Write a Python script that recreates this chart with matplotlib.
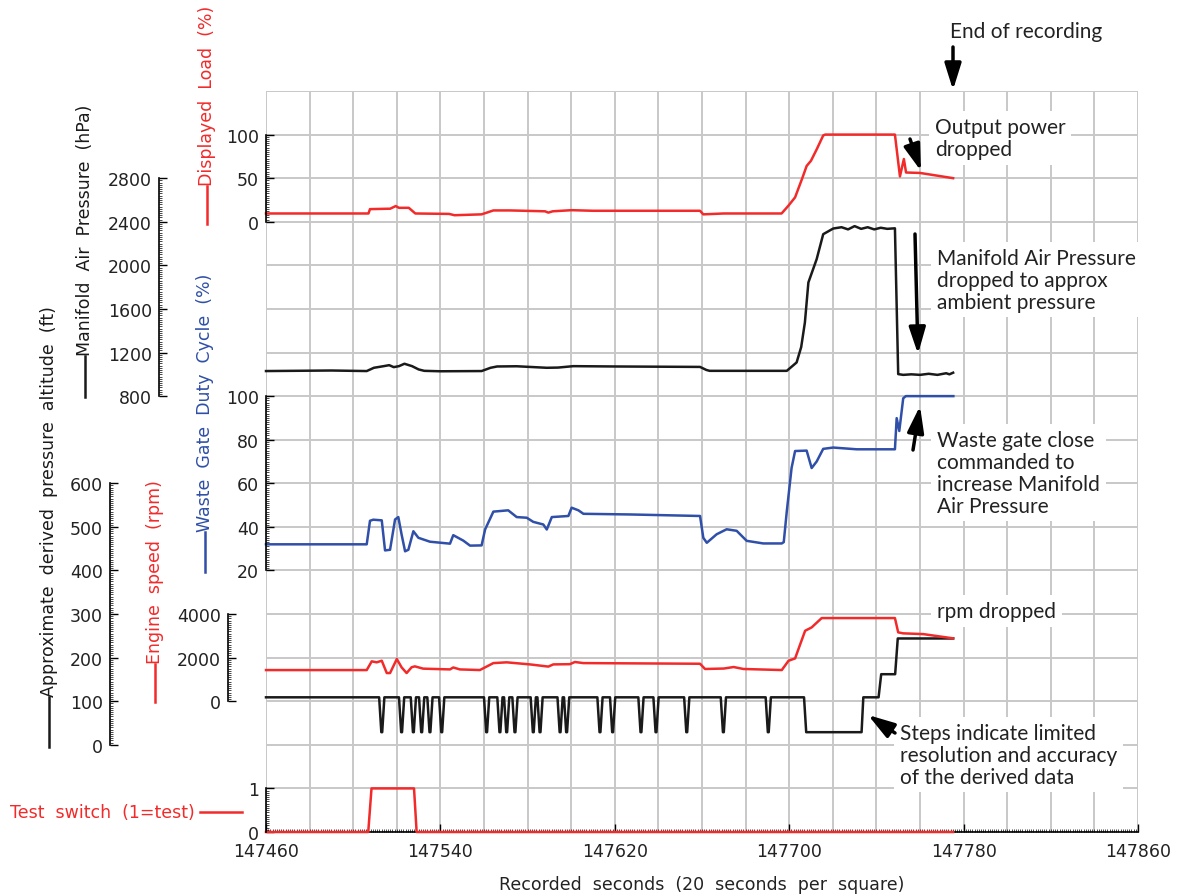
import numpy as np
import matplotlib
matplotlib.use("Agg")
import matplotlib.pyplot as plt
from matplotlib.ticker import FixedLocator
from matplotlib.lines import Line2D
from matplotlib.patches import FancyArrowPatch

# ---------------- data (time offsets in s from 147460) ----------------
T0 = 147460

load_t = [0, 47.0, 47.7, 57.0, 59.5, 61.0, 65.5, 68.5, 84.0, 86.5,
          98.9, 104.3, 112.0, 128.0, 129.5, 131.5, 140.2, 150.0, 199.1, 200.6,
          210.0, 236.5, 239.5, 242.7, 246.0, 248.0, 250.0, 252.6, 255.6, 256.5,
          288.5, 290.8, 292.6, 293.6, 300.0, 315.2]
load_v = [9.5, 9.5, 14.5, 15.0, 18.0, 16.0, 16.0, 9.5, 9.0, 7.5,
          8.5, 13.0, 13.0, 12.0, 10.5, 12.0, 13.3, 12.6, 12.6, 8.5,
          9.5, 9.5, 18.0, 28.0, 50.0, 64.0, 70.0, 83.0, 99.0, 100.0,
          100.0, 52.0, 72.0, 56.5, 56.0, 50.0]

map_t = [0, 30, 46.2, 49.5, 54.0, 56.5, 58.6, 61.0, 63.5, 67.0,
         70.0, 72.6, 80.0, 98.9, 103.0, 106.0, 115.0, 128.8, 134.0, 141.0,
         160.0, 199.1, 202.0, 203.5, 238.9, 243.4, 245.5, 247.2, 248.8, 252.6,
         255.6, 260.2, 264.0, 267.0, 270.0, 273.0, 276.0, 279.0, 282.0, 285.0,
         288.5, 290.0, 292.3, 296.0, 300.0, 304.0, 308.0, 312.0, 313.5, 315.2]
map_v = [1030, 1035, 1030, 1060, 1075, 1084, 1066, 1075, 1097, 1075,
         1045, 1032, 1028, 1030, 1060, 1072, 1074, 1060, 1062, 1075,
         1072, 1068, 1040, 1032, 1032, 1109, 1250, 1476, 1843, 2057,
         2286, 2338, 2350, 2330, 2360, 2335, 2350, 2330, 2345, 2335,
         2340, 1002, 995, 1000, 995, 1005, 995, 1010, 1000, 1015]

wg_t = [0, 46.2, 47.7, 49.2, 53.1, 54.6, 56.9, 59.2, 60.7, 62.2,
        63.8, 65.3, 67.6, 69.9, 75.2, 84.4, 85.9, 90.5, 93.6, 98.9,
        100.5, 104.3, 111.1, 115.0, 119.6, 122.6, 127.2, 128.8, 131.1, 138.7,
        140.2, 143.3, 145.6, 167.0, 199.1, 200.6, 202.2, 206.7, 211.3, 215.9,
        220.5, 228.1, 236.6, 237.5, 238.9, 241.1, 242.7, 248.0, 250.3, 252.6,
        255.6, 260.2, 271.0, 288.5, 289.3, 290.5, 292.3, 293.5, 315.3]
wg_v = [32, 32, 42.8, 43.3, 43, 29.2, 29.5, 43.4, 44.5, 36.5,
        28.8, 29.5, 38, 35, 33.2, 32.3, 36.2, 33.7, 31.4, 31.5,
        38.8, 47, 47.6, 44.5, 44.2, 42.3, 41.1, 38.8, 44.5, 45,
        48.8, 47.6, 46, 45.7, 45, 35, 32.7, 36.6, 38.9, 38.2,
        33.6, 32.4, 32.4, 33, 47.2, 67.1, 74.8, 75, 67, 70,
        75.8, 76.4, 75.6, 75.6, 89.9, 84, 99, 100, 100]

rpm_t = [0, 46.2, 48.5, 50.8, 53.1, 55.4, 56.9, 60.0, 62.2, 64.5,
         66.8, 68.3, 72.1, 84.4, 85.9, 88.9, 98.1, 104.3, 110.4, 121.1,
         129.5, 131.8, 139.4, 141.7, 145.6, 199.1, 201.4, 210.0, 214.5, 219.0,
         236.6, 239.7, 242.7, 247.3, 250.3, 254.9, 288.5, 290.0, 292.3, 301.5,
         315.2]
rpm_v = [1430, 1430, 1830, 1785, 1860, 1293, 1293, 1936, 1555, 1293,
         1560, 1600, 1495, 1460, 1550, 1460, 1431, 1750, 1785, 1690,
         1590, 1690, 1700, 1800, 1750, 1720, 1480, 1500, 1570, 1480,
         1431, 1858, 1965, 3234, 3387, 3816, 3816, 3160, 3115, 3080,
         2885]

alt_t = [0,
         51.9, 52.9, 53.3, 54.3,
         61.0, 62.0, 62.4, 63.4,
         66.4, 67.4, 67.8, 68.8,
         70.2, 71.2, 71.6, 72.6,
         74.0, 75.0, 75.4, 76.4,
         79.4, 80.4, 80.8, 81.8,
         100.0, 101.0, 101.4, 102.4,
         106.1, 107.1, 107.5, 108.5,
         109.2, 110.2, 110.6, 111.6,
         113.0, 114.0, 114.4, 115.4,
         121.4, 122.4, 122.8, 123.8,
         124.5, 125.5, 125.9, 126.9,
         133.7, 134.7, 135.1, 136.1,
         136.7, 137.7, 138.1, 139.1,
         152.0, 153.0, 153.4, 154.4,
         157.8, 158.8, 159.2, 160.2,
         170.8, 171.8, 172.2, 173.2,
         177.7, 178.7, 179.1, 180.1,
         191.8, 192.8, 193.2, 194.2,
         208.6, 209.6, 210.0, 211.0,
         229.2, 230.2, 230.6, 231.6,
         246.8, 247.8, 273.2, 274.0, 281.0, 282.2, 288.6, 289.8, 315.2]
alt_v = [109,
         109, 29, 29, 109,
         109, 29, 29, 109,
         109, 29, 29, 109,
         109, 29, 29, 109,
         109, 29, 29, 109,
         109, 29, 29, 109,
         109, 29, 29, 109,
         109, 29, 29, 109,
         109, 29, 29, 109,
         109, 29, 29, 109,
         109, 29, 29, 109,
         109, 29, 29, 109,
         109, 29, 29, 109,
         109, 29, 29, 109,
         109, 29, 29, 109,
         109, 29, 29, 109,
         109, 29, 29, 109,
         109, 29, 29, 109,
         109, 29, 29, 109,
         109, 29, 29, 109,
         109, 29, 29, 109,
         109, 29, 29, 109, 109, 162, 162, 244, 244]

sw_t = [0, 46.9, 48.4, 67.9, 69.1, 315.2]
sw_v = [0, 0, 1, 1, 0, 0]

x_ticks = [147460, 147540, 147620, 147700, 147780, 147860]

# ---------------- style ----------------
RED = "#f22a2a"
BLUE = "#2f4fa8"
BLK = "#1a1a1a"
GRID = "#c8c8c8"
TXT = "#222222"
FS = 12.5
ANN_FONT = ["Lato", "DejaVu Sans"]

W, H = 1178, 895
fig = plt.figure(figsize=(W / 100, H / 100), dpi=100)
L, B, AW, AH = 266, 833, 872, 741
rect = [L / W, 1 - B / H, AW / W, AH / H]
XMIN, XMAX = 147460, 147860
NSQ = 17

# grid axes (20 s per square)
gax = fig.add_axes(rect, zorder=0)
gax.set_xlim(XMIN, XMAX)
gax.set_ylim(0, NSQ)
gax.set_xticks(np.arange(XMIN, XMAX + 1, 20))
gax.set_yticks(np.arange(0, NSQ + 1, 1))
gax.grid(True, color=GRID, lw=1.4)
gax.tick_params(length=0, labelbottom=False, labelleft=False)
for s in gax.spines.values():
    s.set_visible(False)

# x axis
xax = fig.add_axes(rect, zorder=1)
xax.patch.set_visible(False)
xax.set_xlim(XMIN, XMAX)
xax.set_ylim(0, NSQ)
for k in ("top", "right", "left"):
    xax.spines[k].set_visible(False)
xax.spines["bottom"].set_linewidth(1.2)
xax.set_yticks([])
xax.xaxis.set_major_locator(FixedLocator(x_ticks))
xax.xaxis.set_minor_locator(FixedLocator(np.arange(XMIN, XMAX + 0.5, 1)))
xax.set_xticklabels([str(v) for v in x_ticks])
xax.tick_params(axis="x", which="major", direction="in", length=6, width=1.0,
                labelsize=FS, labelcolor=TXT, pad=7)
xax.tick_params(axis="x", which="minor", direction="in", length=2.5, width=0.5)
fig.text(702 / W, 1 - 885 / H, "Recorded  seconds  (20  seconds  per  square)",
         ha="center", va="center", fontsize=FS, color=TXT)

zc = [2]


def value_axis(lo_sq, per_sq, base, bounds, majors, minor, spine_px):
    zc[0] += 1
    ax = fig.add_axes(rect, zorder=zc[0])
    ax.patch.set_visible(False)
    ax.set_xlim(XMIN, XMAX)
    ymin = base - lo_sq * per_sq
    ax.set_ylim(ymin, ymin + NSQ * per_sq)
    for k in ("top", "right", "bottom"):
        ax.spines[k].set_visible(False)
    ax.spines["left"].set_position(("axes", (spine_px - L) / AW))
    ax.spines["left"].set_bounds(*bounds)
    ax.spines["left"].set_linewidth(1.2)
    ax.set_xticks([])
    ax.yaxis.set_major_locator(FixedLocator(majors))
    ax.yaxis.set_minor_locator(FixedLocator(np.arange(bounds[0], bounds[1] + minor / 2, minor)))
    ax.set_yticklabels([str(m) for m in majors])
    ax.tick_params(axis="y", which="major", direction="in", length=6, width=1.0,
                   labelsize=FS, labelcolor=TXT, pad=5)
    ax.tick_params(axis="y", which="minor", direction="in", length=2.5, width=0.5)
    return ax


# test switch: 0 at square 0, 1 per square
ax_sw = value_axis(0, 1, 0, (0, 1), [0, 1], 0.05, 266)
ax_sw.plot(T0 + np.array(sw_t), sw_v, color=RED, lw=1.8, clip_on=False)

# approx altitude: 0 at square 2, 100 ft per square
ax_alt = value_axis(2, 100, 0, (0, 600), [0, 100, 200, 300, 400, 500, 600], 5, 110)
ax_alt.plot(T0 + np.array(alt_t), alt_v, color=BLK, lw=1.8, clip_on=False,
            solid_joinstyle="round")

# engine speed: 0 at square 3, 2000 rpm per square
ax_rpm = value_axis(3, 2000, 0, (0, 4000), [0, 2000, 4000], 100, 228)
ax_rpm.plot(T0 + np.array(rpm_t), rpm_v, color=RED, lw=1.8, clip_on=False)

# waste gate: 20 at square 6, 20 % per square
ax_wg = value_axis(6, 20, 20, (20, 100), [20, 40, 60, 80, 100], 1, 266)
ax_wg.plot(T0 + np.array(wg_t), wg_v, color=BLUE, lw=1.8, clip_on=False)

# manifold air pressure: 800 at square 10, 400 hPa per square
ax_map = value_axis(10, 400, 800, (800, 2800), [800, 1200, 1600, 2000, 2400, 2800], 20, 159)
ax_map.plot(T0 + np.array(map_t), map_v, color=BLK, lw=1.8, clip_on=False)

# displayed load: 0 at square 14, 50 % per square
ax_load = value_axis(14, 50, 0, (0, 100), [0, 50, 100], 2.5, 266)
ax_load.plot(T0 + np.array(load_t), load_v, color=RED, lw=1.8, clip_on=False)


# ---------------- axis titles (left) ----------------
def fp(x, y):
    return x / W, 1 - y / H


def vlabel(x, y_bottom, y_top_line, text, color):
    fig.add_artist(Line2D([x / W, x / W], [1 - y_bottom / H, 1 - y_top_line / H],
                          transform=fig.transFigure, color=color, lw=1.8))
    fig.text(*fp(x, y_top_line - 1), text, rotation=90, ha="center", va="bottom",
             fontsize=FS, color=color)


vlabel(207, 225, 187, "Displayed  Load  (%)", RED)
vlabel(85, 398, 357, "Manifold  Air  Pressure  (hPa)", BLK)
vlabel(205, 573, 533, "Waste  Gate  Duty  Cycle  (%)", BLUE)
vlabel(155, 703, 665, "Engine  speed  (rpm)", RED)
vlabel(49, 748, 698, "Approximate  derived  pressure  altitude  (ft)", BLK)

fig.text(*fp(195, 813), "Test  switch  (1=test)", ha="right", va="center",
         fontsize=FS, color=RED)
fig.add_artist(Line2D([200 / W, 242 / W], [1 - 813 / H, 1 - 813 / H],
                      transform=fig.transFigure, color=RED, lw=1.8))

# ---------------- annotations ----------------
box = dict(facecolor="white", edgecolor="none", pad=4)


def note(x, y, s):
    fig.text(*fp(x, y), s, ha="left", va="top", fontsize=15, family=ANN_FONT,
             color=TXT, linespacing=1.12, bbox=box, zorder=5)


def arrow(tail, head):
    fig.add_artist(FancyArrowPatch(
        fp(*tail), fp(*head), transform=fig.transFigure,
        arrowstyle="-|>,head_length=0.8,head_width=0.25", mutation_scale=20,
        color="black", lw=2.5, shrinkA=0, shrinkB=0, zorder=6))


note(950, 22, "End of recording")
arrow((953, 48), (953, 91))

note(935, 118, "Output power\ndropped")
arrow((910, 140), (921, 172))

note(937, 249, "Manifold Air Pressure\ndropped to approx\nambient pressure")
arrow((915, 235), (918, 355))

note(937, 431, "Waste gate close\ncommanded to\nincrease Manifold\nAir Pressure")
arrow((913, 451), (920, 407))

note(937, 602, "rpm dropped")

note(900, 724, "Steps indicate limited\nresolution and accuracy\nof the derived data")
arrow((895, 734), (868, 716))

fig.savefig("out.png", dpi=100)
